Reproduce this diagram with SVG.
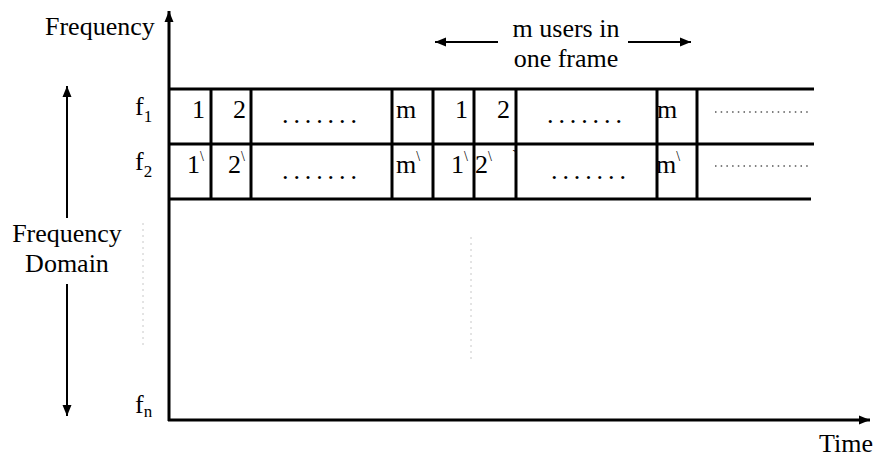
<svg xmlns="http://www.w3.org/2000/svg" width="875" height="459" viewBox="0 0 875 459">
  <style>
    .t { font-family: 'Liberation Serif', 'Times New Roman', Tinos, 'DejaVu Serif', serif; font-size: 26px; fill: #000; }
    .sup { font-size: 14px; }
    .sub { font-size: 17px; }
    .dots { letter-spacing: 4.9px; }
    .grid { stroke: #000; stroke-width: 3; fill: none; }
    .axis { stroke: #000; stroke-width: 3; fill: none; }
    .arr { stroke: #000; stroke-width: 2; fill: none; }
    .faint { stroke: #c8c8c8; stroke-width: 1; stroke-dasharray: 2 4; fill: none; }
    .tail { stroke: #555; stroke-width: 1.5; stroke-dasharray: 1.5 4.2; fill: none; }
  </style>
  <defs>
    <marker id="head" markerUnits="userSpaceOnUse" markerWidth="12" markerHeight="12" viewBox="0 0 12 12" refX="11" refY="6" orient="auto">
      <path d="M0,1.5 L11,6 L0,10.5 Z" fill="#000"/>
    </marker>
  </defs>

  <!-- axes -->
  <g id="axes">
    <line class="axis" x1="169" y1="421" x2="169" y2="11" marker-end="url(#head)"/>
    <line class="axis" x1="168" y1="420" x2="870" y2="420" marker-end="url(#head)"/>
    <text class="t" font-family="Liberation Serif, serif" x="45" y="35">Frequency</text>
    <text class="t" font-family="Liberation Serif, serif" x="873" y="452" text-anchor="end">Time</text>
  </g>

  <!-- frequency domain span -->
  <g id="freq-domain">
    <line class="arr" x1="67" y1="218" x2="67" y2="86" marker-end="url(#head)"/>
    <line class="arr" x1="67" y1="284" x2="67" y2="416" marker-end="url(#head)"/>
    <text class="t" x="67" y="242" text-anchor="middle">Frequency</text>
    <text class="t" x="67" y="272" text-anchor="middle">Domain</text>
    <line class="faint" x1="143" y1="223" x2="143" y2="345"/>
    <line class="faint" x1="471" y1="237" x2="471" y2="360"/>
  </g>

  <!-- channel labels -->
  <g id="channels">
    <text class="t" x="135" y="115">f<tspan class="sub" dy="7">1</tspan></text>
    <text class="t" x="135" y="170">f<tspan class="sub" dy="7">2</tspan></text>
    <text class="t" x="135" y="413">f<tspan class="sub" dy="4">n</tspan></text>
  </g>

  <!-- frame header -->
  <g id="frame-label">
    <line class="arr" x1="498" y1="42" x2="435" y2="42" marker-end="url(#head)"/>
    <line class="arr" x1="628" y1="42" x2="691" y2="42" marker-end="url(#head)"/>
    <text class="t" x="566" y="37" text-anchor="middle">m users in</text>
    <text class="t" x="566" y="67" text-anchor="middle">one frame</text>
  </g>

  <!-- slot grid -->
  <g id="grid">
    <line class="grid" x1="168" y1="89" x2="814" y2="89"/>
    <line class="grid" x1="168" y1="144" x2="814" y2="144"/>
    <line class="grid" x1="168" y1="199" x2="811" y2="199"/>
    <line class="grid" x1="211" y1="89" x2="211" y2="199"/>
    <line class="grid" x1="251" y1="89" x2="251" y2="199"/>
    <line class="grid" x1="392" y1="89" x2="392" y2="199"/>
    <line class="grid" x1="433" y1="89" x2="433" y2="199"/>
    <line class="grid" x1="474" y1="89" x2="474" y2="199"/>
    <line class="grid" x1="516" y1="89" x2="516" y2="199"/>
    <line class="grid" x1="657" y1="89" x2="657" y2="199"/>
    <line class="grid" x1="697" y1="89" x2="697" y2="199"/>
  </g>

  <!-- frame 1 -->
  <g id="frame1">
    <text class="t" x="192" y="118">1</text>
    <text class="t" x="233" y="118">2</text>
    <text class="t dots" x="282" y="123">.......</text>
    <text class="t" x="396" y="118">m</text>
    <text class="t" x="187" y="173">1<tspan class="sup" dy="-12">\</tspan></text>
    <text class="t" x="228" y="173">2<tspan class="sup" dy="-12">\</tspan></text>
    <text class="t dots" x="282" y="179">.......</text>
    <text class="t" x="396" y="173">m<tspan class="sup" dy="-12">\</tspan></text>
  </g>

  <!-- frame 2 -->
  <g id="frame2">
    <text class="t" x="455" y="118">1</text>
    <text class="t" x="497" y="118">2</text>
    <text class="t dots" x="547" y="123">.......</text>
    <text class="t" x="657" y="118">m</text>
    <text class="t" x="451" y="173">1<tspan class="sup" dy="-12">\</tspan></text>
    <text class="t" x="475" y="173">2<tspan class="sup" dy="-12">\</tspan></text>
    <text class="t sup" x="512" y="160">`</text>
    <text class="t dots" x="551" y="179">.......</text>
    <text class="t" x="656" y="173">m<tspan class="sup" dy="-12">\</tspan></text>
  </g>

  <!-- continuation -->
  <g id="more">
    <line class="tail" x1="715" y1="112" x2="808" y2="112"/>
    <line class="tail" x1="715" y1="166" x2="808" y2="166"/>
  </g>
</svg>
